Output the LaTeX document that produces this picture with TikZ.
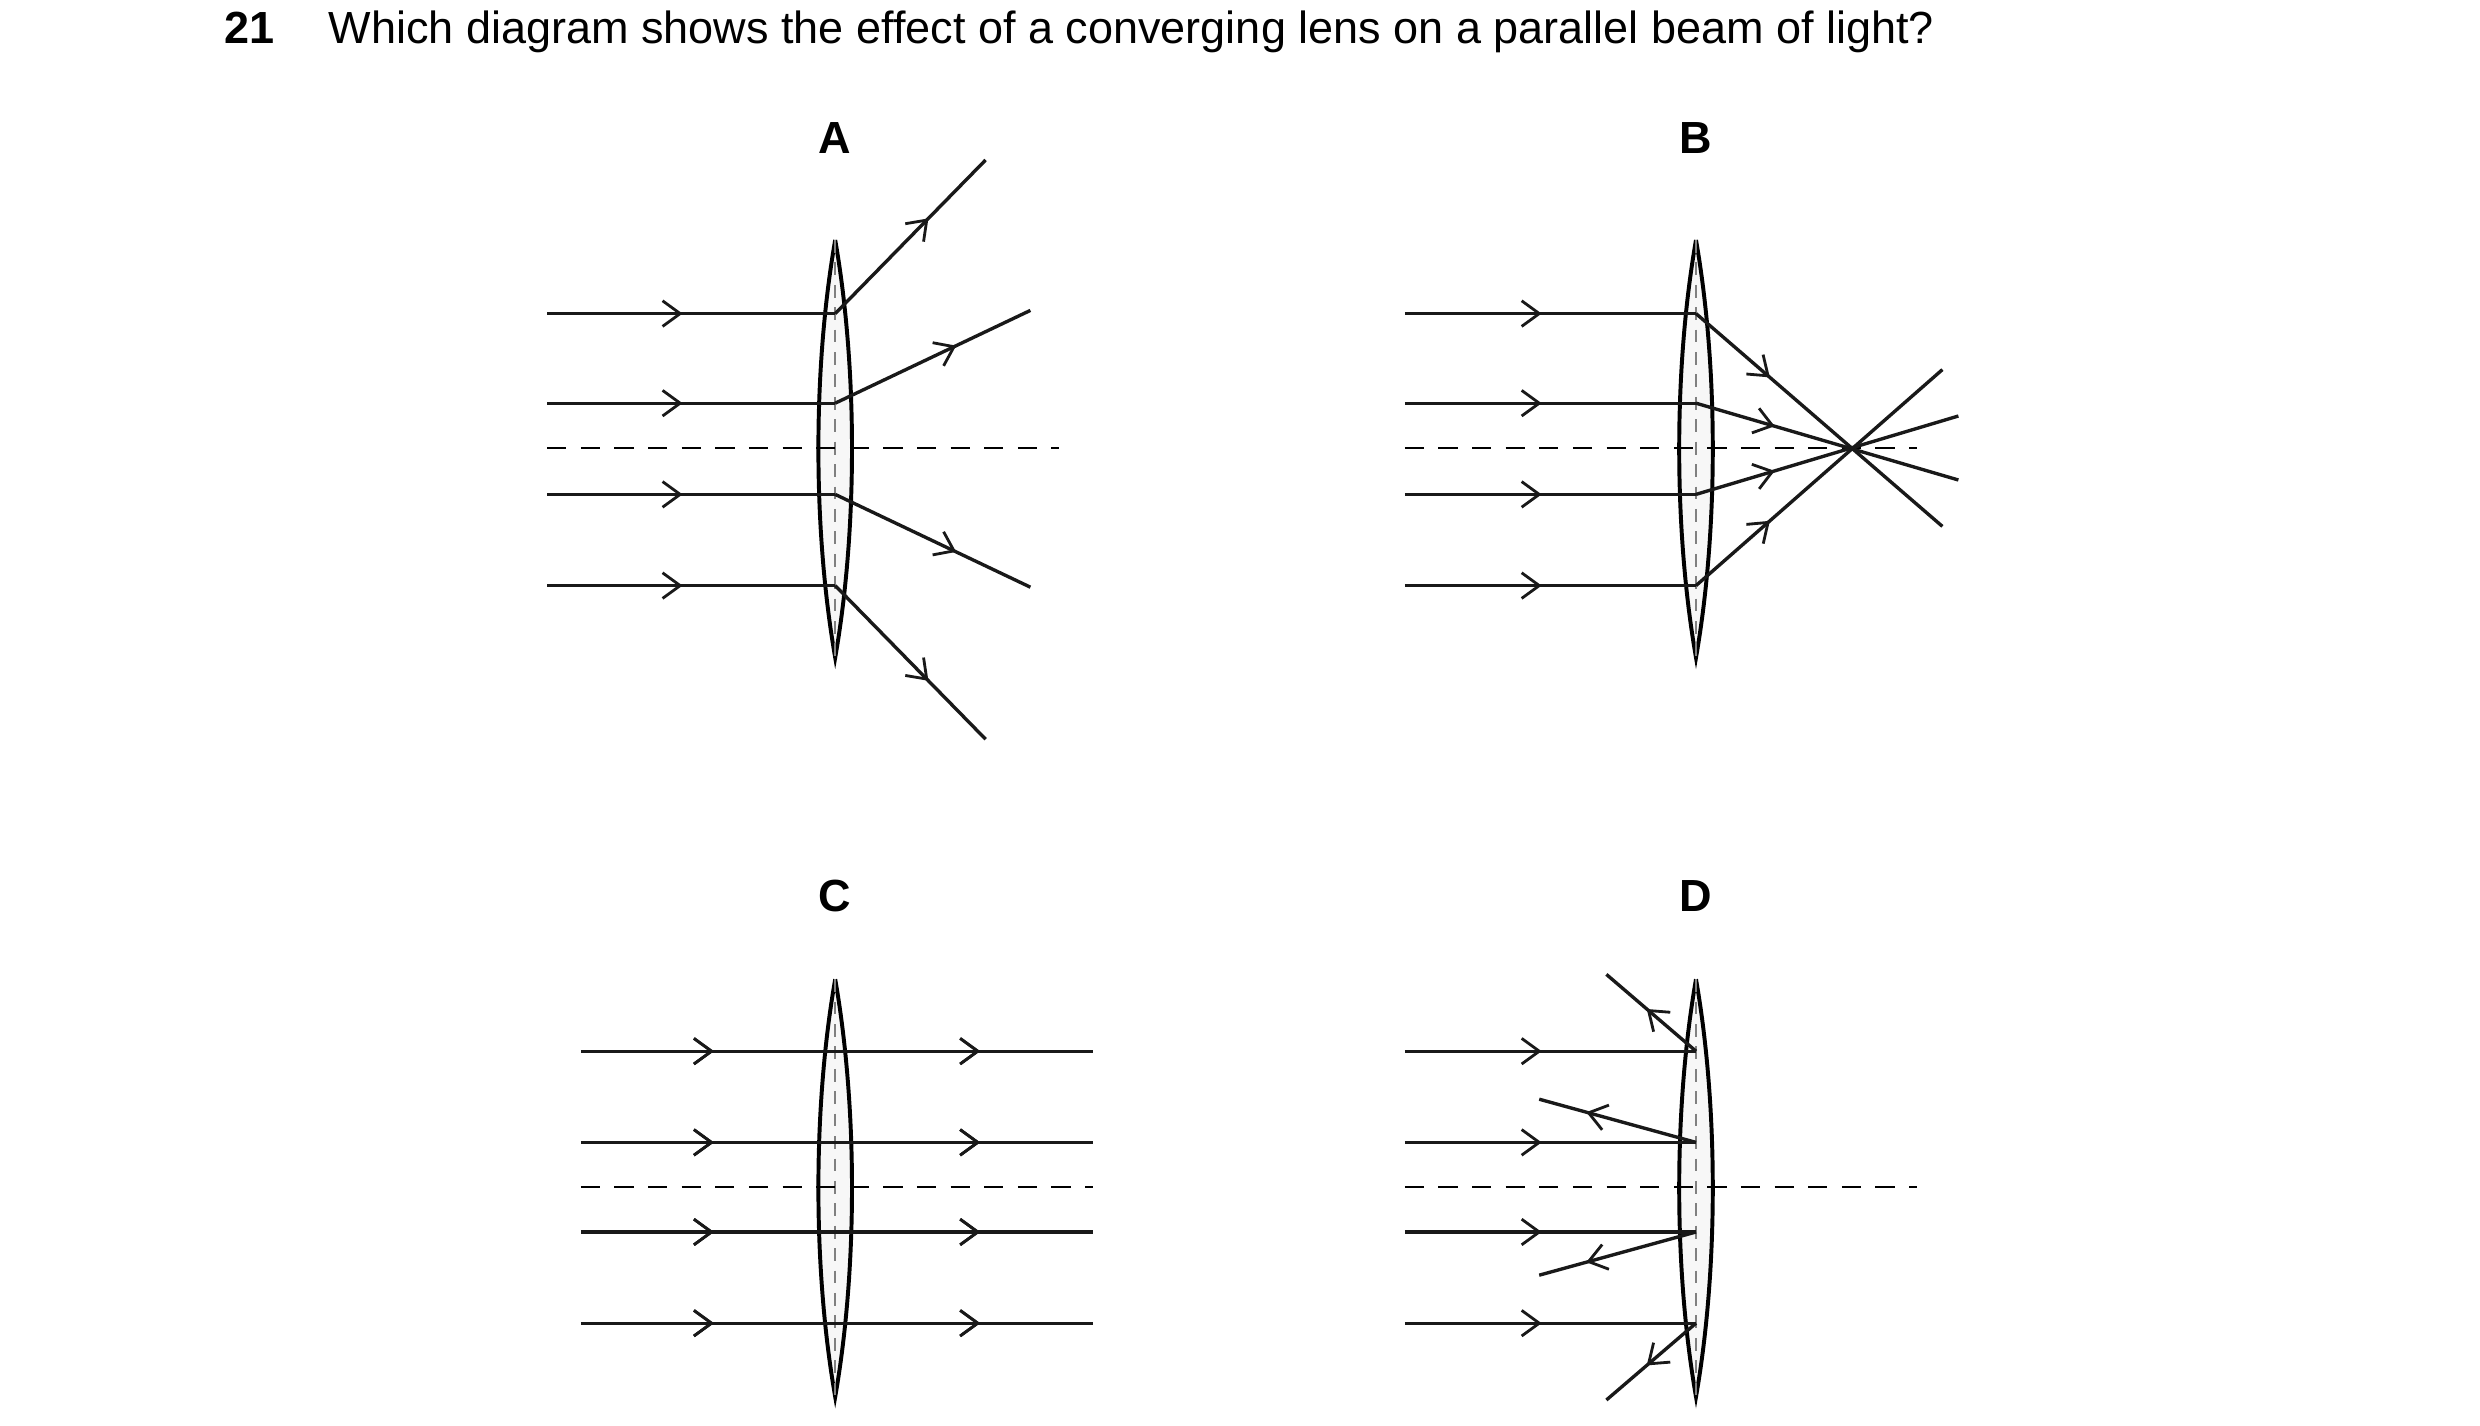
\documentclass[tikz,border=0pt]{standalone}
\usepackage{fontspec}
\setmainfont{Liberation Sans}
\usetikzlibrary{arrows.meta,decorations.markings}

\tikzset{
  ray/.style={line width=0.6pt, draw=black!90},
  mark at/.style={postaction={decorate}, decoration={markings,
      mark=at position #1 with {\arrow{Straight Barb[length=1.1mm,width=1.6mm,line width=0.5pt]}}}},
  axis/.style={line width=0.45pt, dash pattern=on 1.2mm off 0.9mm},
  lens/.style={line width=0.7pt, fill=gray!6},
  lbl/.style={font=\bfseries\fontsize{8}{9}\selectfont}
}

% lens: centre x, top y, bottom y
\newcommand{\lensat}[3]{%
  \draw[lens] (#1,#2) .. controls (#1+14,#2+80) and (#1+14,#3-80) .. (#1,#3)
    .. controls (#1-14,#3-80) and (#1-14,#2+80) .. (#1,#2);
  \draw[gray, line width=0.3pt, dash pattern=on 0.8mm off 0.6mm] (#1,#2) -- (#1,#3);}

\begin{document}
\begin{tikzpicture}[x=0.01cm, y=-0.01cm]
  \useasboundingbox (0,0) rectangle (1550,891);

  % Frage
  \node[anchor=west, font=\fontsize{8}{9}\selectfont] (q) at (128,20)
    {\textbf{21}\hspace{1.2em}Which diagram shows the effect of a converging lens on a parallel beam of light?};

  % A
  \node[lbl] (la) at (522,86) {A};
  \lensat{522}{150}{411}
  \draw[axis] (342,280) -- (662,280);
  \foreach \y in {196,252,309,366}
    \draw[ray, mark at=0.47] (342,\y) -- (522,\y);
  \draw[ray, mark at=0.62] (522,196) -- (616,100);
  \draw[ray, mark at=0.62] (522,252) -- (644,194);
  \draw[ray, mark at=0.62] (522,309) -- (644,367);
  \draw[ray, mark at=0.62] (522,366) -- (616,462);

  % B
  \node[lbl] (lb) at (1060,86) {B};
  \lensat{1060}{150}{411}
  \draw[axis] (878,280) -- (1198,280);
  \foreach \y in {196,252,309,366}
    \draw[ray, mark at=0.47] (878,\y) -- (1060,\y);
  \draw[ray, mark at=0.3] (1060,196) -- (1214,329);
  \draw[ray, mark at=0.3] (1060,252) -- (1224,300);
  \draw[ray, mark at=0.3] (1060,309) -- (1224,260);
  \draw[ray, mark at=0.3] (1060,366) -- (1214,231);

  % C
  \node[lbl] (lc) at (522,560) {C};
  \lensat{522}{612}{873}
  \draw[axis] (363,742) -- (683,742);
  \foreach \y in {657,714,770,827}
    \draw[ray, mark at=0.26, mark at=0.78] (363,\y) -- (683,\y);

  % D
  \node[lbl] (ld) at (1060,560) {D};
  \lensat{1060}{612}{873}
  \draw[axis] (878,742) -- (1198,742);
  \foreach \y in {657,714,770,827}
    \draw[ray, mark at=0.47] (878,\y) -- (1060,\y);
  \draw[ray, mark at=0.55] (1060,657) -- (1004,609);
  \draw[ray, mark at=0.7] (1060,714) -- (962,687);
  \draw[ray, mark at=0.7] (1060,770) -- (962,797);
  \draw[ray, mark at=0.55] (1060,827) -- (1004,875);
\end{tikzpicture}
\end{document}
